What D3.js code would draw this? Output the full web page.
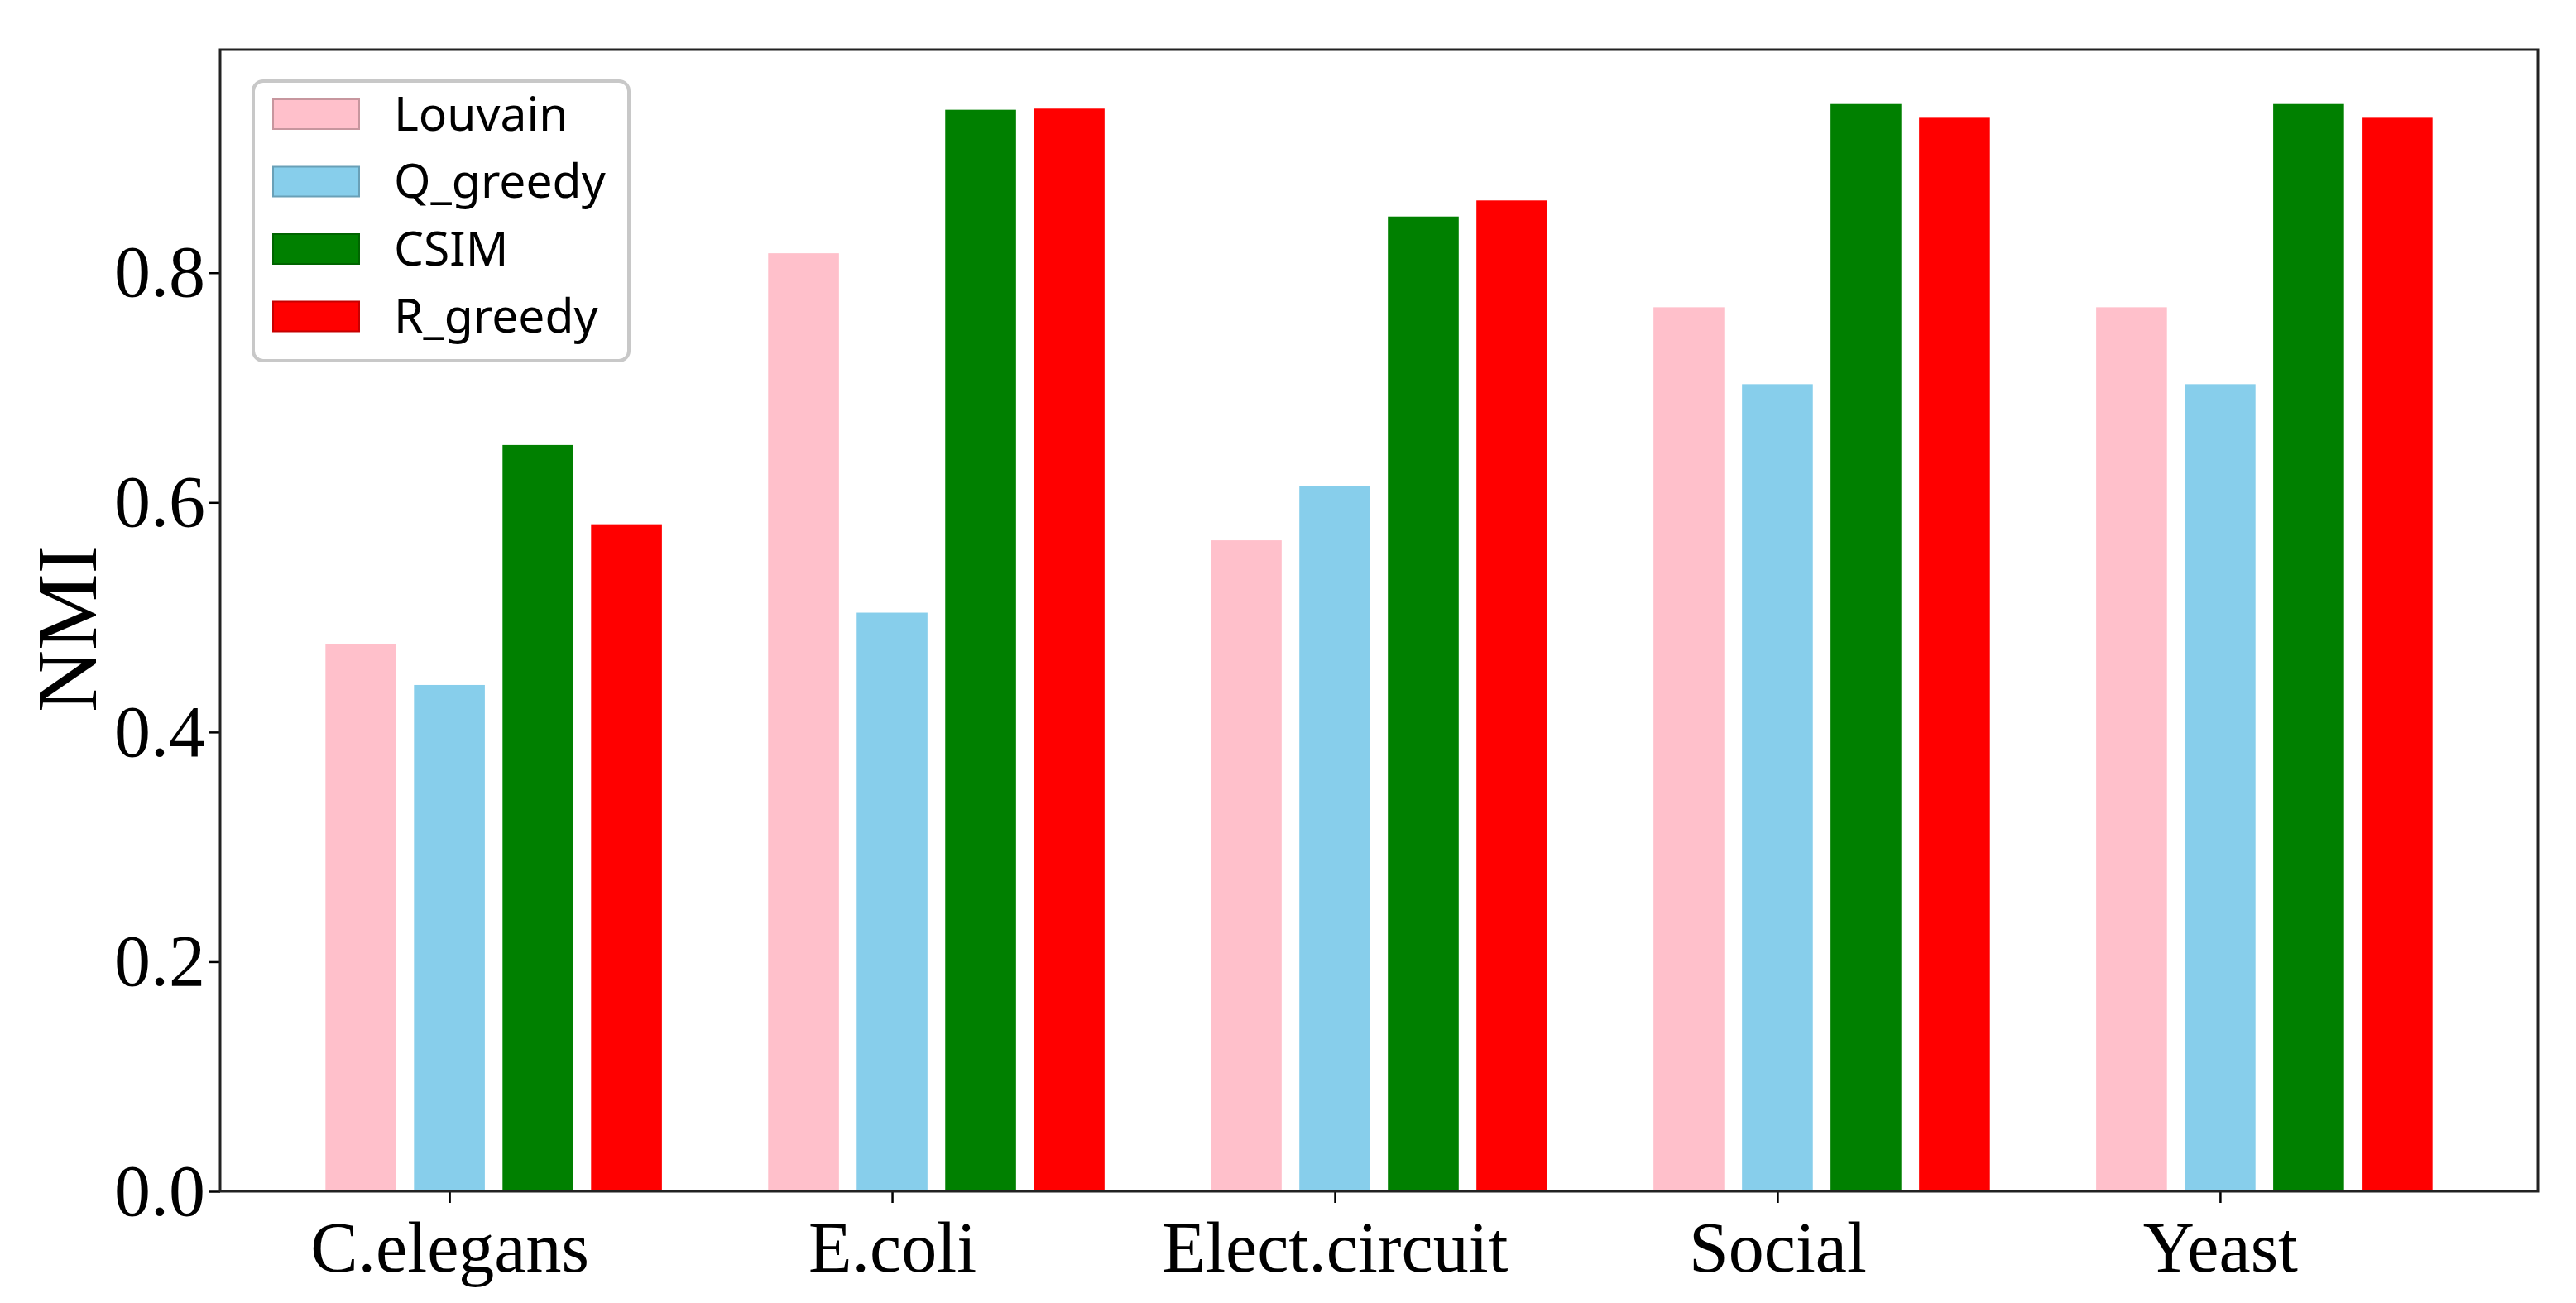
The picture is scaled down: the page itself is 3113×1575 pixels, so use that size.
<!DOCTYPE html>
<html>
<head>
<meta charset="utf-8">
<script src="https://cdn.jsdelivr.net/npm/d3@7"></script>
<style>
  body { margin: 0; background: #fff; }
</style>
</head>
<body>
<script>
// NMI per network, one array per method
var datasets = ["C.elegans", "E.coli", "Elect.circuit", "Social", "Yeast"];
var methods = ["Louvain", "Q_greedy", "CSIM", "R_greedy"];
var colors = ["#ffc0cb", "#87ceeb", "#008000", "#ff0000"];
var louvain = [0.477, 0.817, 0.567, 0.770, 0.770];
var qGreedy = [0.441, 0.504, 0.614, 0.703, 0.703];
var csim = [0.650, 0.942, 0.849, 0.947, 0.947];
var rGreedy = [0.581, 0.943, 0.863, 0.935, 0.935];
var yTicks = [0.0, 0.2, 0.4, 0.6, 0.8];

var series = [louvain, qGreedy, csim, rGreedy];

var W = 3113, H = 1575;
var margin = {left: 266, right: 46, top: 60, bottom: 135};

var svg = d3.select("body")
  .append("svg")
  .attr("width", W)
  .attr("height", H);

// bars sit at i-0.2, i, i+0.2, i+0.4 with width 0.16 (tick under 2nd bar)
var step = 0.2, barW = 0.16;
var xMin = -0.2 - barW / 2, xMax = (datasets.length - 1) + 0.4 + barW / 2;
var pad = (xMax - xMin) * 0.05;

var x = d3.scaleLinear()
  .domain([xMin - pad, xMax + pad])
  .range([margin.left, W - margin.right]);

var yMax = d3.max(series, function (s) { return d3.max(s); }) * 1.05;
var y = d3.scaleLinear()
  .domain([0, yMax])
  .range([H - margin.bottom, margin.top]);

var rows = [];
series.forEach(function (s, k) {
  s.forEach(function (v, i) {
    rows.push({i: i, k: k, v: v});
  });
});

svg.selectAll("rect.bar")
  .data(rows)
  .enter()
  .append("rect")
  .attr("class", "bar")
  .attr("x", function (d) { return x(d.i + (d.k - 1) * step - barW / 2); })
  .attr("width", function () { return x(barW) - x(0); })
  .attr("y", function (d) { return y(d.v); })
  .attr("height", function (d) { return y(0) - y(d.v); })
  .style("fill", function (d) { return colors[d.k]; });

// axes
var yAxis = d3.axisLeft(y)
  .tickValues(yTicks)
  .tickFormat(d3.format(".1f"))
  .tickSize(14)
  .tickPadding(4);

var gy = svg.append("g")
  .attr("transform", "translate(" + margin.left + ",0)")
  .call(yAxis);
gy.select(".domain").remove();
gy.selectAll("line").attr("stroke", "#000").attr("stroke-width", 2.5);
gy.selectAll("text")
  .attr("font-family", "'Liberation Serif', 'Times New Roman', serif")
  .attr("font-size", 88)
  .attr("fill", "#000");

var xAxis = d3.axisBottom(x)
  .tickValues(d3.range(datasets.length))
  .tickFormat(function (i) { return datasets[i]; })
  .tickSize(14)
  .tickPadding(22);

var gx = svg.append("g")
  .attr("transform", "translate(0," + (H - margin.bottom) + ")")
  .call(xAxis);
gx.select(".domain").remove();
gx.selectAll("line").attr("stroke", "#000").attr("stroke-width", 2.5);
gx.selectAll("text")
  .attr("font-family", "'Liberation Serif', 'Times New Roman', serif")
  .attr("font-size", 86)
  .attr("fill", "#000");

// frame
svg.append("rect")
  .attr("x", margin.left)
  .attr("y", margin.top)
  .attr("width", W - margin.right - margin.left)
  .attr("height", H - margin.bottom - margin.top)
  .style("fill", "none")
  .style("stroke", "#222")
  .style("stroke-width", 3);

svg.append("text")
  .attr("transform", "translate(" + 116 + "," + 760 + ") rotate(-90)")
  .attr("text-anchor", "middle")
  .attr("font-family", "'Liberation Serif', 'Times New Roman', serif")
  .attr("font-size", 104)
  .attr("fill", "#000")
  .text("NMI");

// legend
var lg = svg.append("g").attr("transform", "translate(306,98)");
lg.append("rect")
  .attr("width", 454)
  .attr("height", 338)
  .attr("rx", 12)
  .style("fill", "#fff")
  .style("fill-opacity", 0.8)
  .style("stroke", "#c8c8c8")
  .style("stroke-width", 4);

var item = lg.selectAll("g.item")
  .data(methods)
  .enter()
  .append("g")
  .attr("class", "item")
  .attr("transform", function (d, i) { return "translate(24," + (40 + i * 81.5) + ")"; });

item.append("rect")
  .attr("y", -18)
  .attr("width", 104)
  .attr("height", 36)
  .style("fill", function (d, i) { return colors[i]; })
  .style("stroke", function (d, i) { return d3.color(colors[i]).darker(0.7); })
  .style("stroke-width", 2);

item.append("text")
  .attr("x", 146)
  .attr("dy", "0.35em")
  .attr("font-family", "'Noto Sans', 'DejaVu Sans', sans-serif")
  .attr("font-size", 57)
  .attr("fill", "#000")
  .text(function (d) { return d; });
</script>
</body>
</html>
